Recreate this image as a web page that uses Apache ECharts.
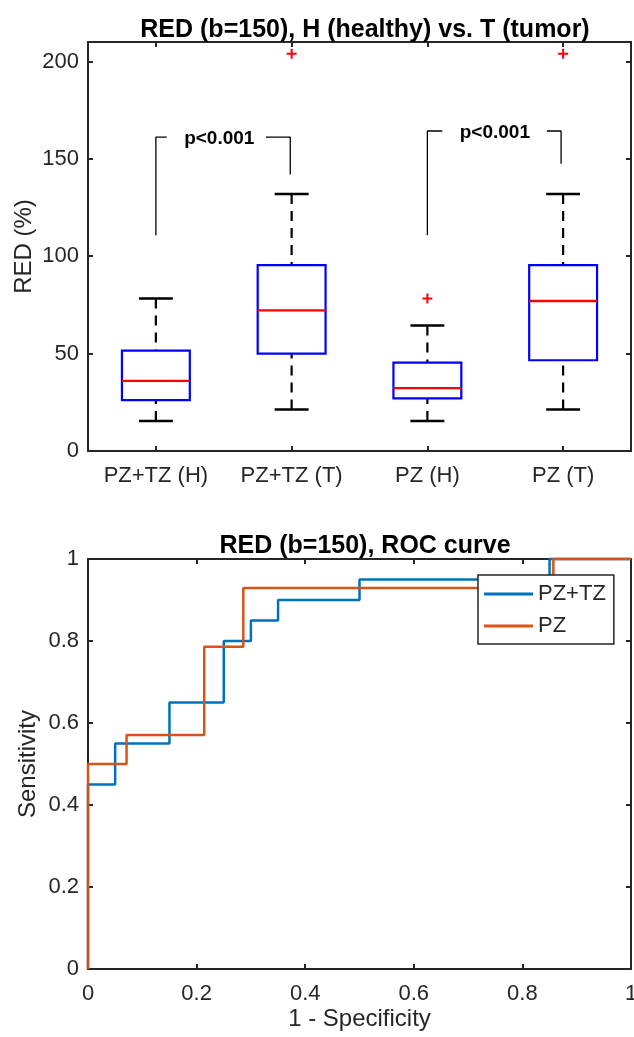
<!DOCTYPE html>
<html><head><meta charset="utf-8">
<script src="https://cdn.jsdelivr.net/npm/echarts@6/dist/echarts.min.js"></script>
<style>html,body{margin:0;padding:0;background:#fff}#c{width:634px;height:1037px}</style>
</head><body><div id="c"></div>
<script>
// ---- Box plot data (RED %) ----
const categories = ['PZ+TZ (H)', 'PZ+TZ (T)', 'PZ (H)', 'PZ (T)'];
const whiskerLow = [15.4, 21.3, 15.4, 21.3];
const q1 = [26.1, 50.0, 27.0, 46.6];
const median = [36.0, 72.2, 32.3, 77.0];
const q3 = [51.5, 95.4, 45.4, 95.4];
const whiskerHigh = [78.3, 131.9, 64.5, 131.9];
const outlierCat = [1, 2, 3];
const outlierVal = [204, 78.3, 204];

// ---- significance brackets ----
const bracketLeftX = [1, 3];
const bracketRightX = [1.99, 3.985];
const bracketTopY = [161.2, 164.3];
const bracketLeftLow = [110.8, 110.8];
const bracketRightLow = [142.0, 147.5];
const bracketGapL = [1.08, 3.11];
const bracketGapR = [1.81, 3.88];
const pLabelX = [1.467, 3.497];
const pLabelY = [160.2, 163.3];
const pLabels = ['p<0.001', 'p<0.001'];

// ---- ROC data ----
const rocNames = ['PZ+TZ', 'PZ'];
const fprPZTZ = [0, 0, 0.05, 0.15, 0.25, 0.30, 0.35, 0.50, 0.85, 1];
const tprPZTZ = [0, 0.45, 0.55, 0.65, 0.80, 0.85, 0.90, 0.95, 1, 1];
const fprPZ = [0, 0, 0.071, 0.214, 0.286, 0.857, 1];
const tprPZ = [0, 0.5, 0.571, 0.786, 0.929, 1, 1];

const FONT = 'Liberation Sans, Arial, Helvetica, sans-serif';
const AX = '#262626';

const boxRows = categories.map((c, i) => [i, whiskerLow[i], q1[i], median[i], q3[i], whiskerHigh[i]]);

function renderBox(params, api) {
  const i = api.value(0);
  const lo = api.coord([i, api.value(1)]);
  const b1 = api.coord([i, api.value(2)]);
  const md = api.coord([i, api.value(3)]);
  const b3 = api.coord([i, api.value(4)]);
  const hi = api.coord([i, api.value(5)]);
  const band = api.size([1, 0])[0];
  const bw = band * 0.5, cw = band * 0.25, cx = lo[0];
  const dash = {stroke: '#000', lineWidth: 2.2, lineDash: [10, 7]};
  const cap = {stroke: '#000', lineWidth: 2.5};
  return {type: 'group', children: [
    {type: 'line', shape: {x1: cx, y1: hi[1], x2: cx, y2: b3[1]}, style: dash},
    {type: 'line', shape: {x1: cx, y1: lo[1], x2: cx, y2: b1[1]}, style: dash},
    {type: 'line', shape: {x1: cx - cw / 2, y1: hi[1], x2: cx + cw / 2, y2: hi[1]}, style: cap},
    {type: 'line', shape: {x1: cx - cw / 2, y1: lo[1], x2: cx + cw / 2, y2: lo[1]}, style: cap},
    {type: 'rect', shape: {x: cx - bw / 2, y: b3[1], width: bw, height: b1[1] - b3[1]},
      style: {fill: 'none', stroke: '#0000FF', lineWidth: 2.2}},
    {type: 'line', shape: {x1: cx - bw / 2, y1: md[1], x2: cx + bw / 2, y2: md[1]},
      style: {stroke: '#FF0000', lineWidth: 2.4}}
  ]};
}

const bracketSeries = [];
bracketLeftX.forEach((x, k) => {
  bracketSeries.push({
    type: 'line', xAxisIndex: 2, yAxisIndex: 0, symbol: 'none', silent: true,
    lineStyle: {color: '#000', width: 1.3},
    data: [[x, bracketLeftLow[k]], [x, bracketTopY[k]], [bracketGapL[k], bracketTopY[k]]]
  });
  bracketSeries.push({
    type: 'line', xAxisIndex: 2, yAxisIndex: 0, symbol: 'none', silent: true,
    lineStyle: {color: '#000', width: 1.3},
    data: [[bracketGapR[k], bracketTopY[k]], [bracketRightX[k], bracketTopY[k]], [bracketRightX[k], bracketRightLow[k]]]
  });
});

const axisLineStyle = {onZero: false, lineStyle: {color: AX, width: 2}};
const tickIn = {show: true, inside: true, length: 5, lineStyle: {color: AX, width: 2}};
const labelStyle = {color: AX, fontSize: 22, fontFamily: FONT, hideOverlap: false};
const nameStyle = {fontSize: 24, color: AX, fontFamily: FONT};

const option = {
  animation: false,
  backgroundColor: '#fff',
  title: [
    {text: 'RED (b=150), H (healthy) vs. T (tumor)', left: 360, top: 13, textAlign: 'center',
      textStyle: {fontSize: 25, fontWeight: 'bold', color: '#000', fontFamily: FONT}},
    {text: 'RED (b=150), ROC curve', left: 360, top: 529, textAlign: 'center',
      textStyle: {fontSize: 25, fontWeight: 'bold', color: '#000', fontFamily: FONT}}
  ],
  legend: {
    data: rocNames, orient: 'vertical', left: 478, top: 575, padding: [8, 8, 7, 6],
    itemGap: 10, itemWidth: 49, itemHeight: 3, icon: 'rect',
    borderColor: AX, borderWidth: 1.5, backgroundColor: '#fff',
    textStyle: {fontSize: 22, color: AX, fontFamily: FONT}
  },
  grid: [
    {left: 88, right: 3, top: 42, bottom: 586, containLabel: false, outerBoundsMode: 'none'},
    {left: 88, right: 3, top: 559, bottom: 68, containLabel: false, outerBoundsMode: 'none'}
  ],
  xAxis: [
    {type: 'category', gridIndex: 0, data: categories, position: 'bottom', boundaryGap: true,
      axisLine: axisLineStyle, axisTick: Object.assign({alignWithLabel: true, interval: 0}, tickIn),
      axisLabel: Object.assign({margin: 14, interval: 0}, labelStyle), splitLine: {show: false}},
    {type: 'category', gridIndex: 0, data: categories, position: 'top', boundaryGap: true,
      axisLine: axisLineStyle, axisTick: Object.assign({alignWithLabel: true, interval: 0}, tickIn),
      axisLabel: {show: false}, splitLine: {show: false}},
    {type: 'value', gridIndex: 0, min: 0.5, max: 4.5, show: false},
    {type: 'value', gridIndex: 1, min: 0, max: 1, interval: 0.2, position: 'bottom',
      name: '1 - Specificity', nameLocation: 'middle', nameGap: 38, nameMoveOverlap: false,
      nameTextStyle: nameStyle,
      axisLine: axisLineStyle, axisTick: tickIn,
      axisLabel: Object.assign({margin: 14}, labelStyle), splitLine: {show: false}},
    {type: 'value', gridIndex: 1, min: 0, max: 1, interval: 0.2, position: 'top',
      axisLine: axisLineStyle, axisTick: tickIn, axisLabel: {show: false}, splitLine: {show: false}}
  ],
  yAxis: [
    {type: 'value', gridIndex: 0, min: 0, max: 210, interval: 50, position: 'left',
      name: 'RED (%)', nameLocation: 'middle', nameGap: 52, nameMoveOverlap: false,
      nameTextStyle: nameStyle,
      axisLine: axisLineStyle, axisTick: tickIn,
      axisLabel: Object.assign({margin: 9, showMaxLabel: false}, labelStyle), splitLine: {show: false}},
    {type: 'value', gridIndex: 0, min: 0, max: 210, interval: 50, position: 'right',
      axisLine: axisLineStyle, axisTick: tickIn, axisLabel: {show: false}, splitLine: {show: false}},
    {type: 'value', gridIndex: 1, min: 0, max: 1, interval: 0.2, position: 'left',
      name: 'Sensitivity', nameLocation: 'middle', nameGap: 48, nameMoveOverlap: false,
      nameTextStyle: nameStyle,
      axisLine: axisLineStyle, axisTick: tickIn,
      axisLabel: Object.assign({margin: 9}, labelStyle), splitLine: {show: false}},
    {type: 'value', gridIndex: 1, min: 0, max: 1, interval: 0.2, position: 'right',
      axisLine: axisLineStyle, axisTick: tickIn, axisLabel: {show: false}, splitLine: {show: false}}
  ],
  series: [
    {type: 'custom', xAxisIndex: 0, yAxisIndex: 0, renderItem: renderBox,
      encode: {x: 0, y: [1, 2, 3, 4, 5]}, data: boxRows, silent: true},
    {type: 'scatter', xAxisIndex: 0, yAxisIndex: 0, silent: true,
      symbol: 'path://M4,0H6V4H10V6H6V10H4V6H0V4H4Z', symbolSize: 10,
      itemStyle: {color: '#FF0000', opacity: 1},
      data: outlierCat.map((c, i) => [c, outlierVal[i]])},
    ...bracketSeries,
    {type: 'scatter', xAxisIndex: 2, yAxisIndex: 0, symbolSize: 0, silent: true,
      itemStyle: {opacity: 1},
      label: {show: true, position: 'inside', formatter: p => pLabels[p.dataIndex],
        fontSize: 19, fontWeight: 'bold', color: '#000', fontFamily: FONT},
      data: pLabelX.map((x, i) => [x, pLabelY[i]])},
    {name: rocNames[0], type: 'line', xAxisIndex: 3, yAxisIndex: 2, step: 'end',
      symbol: 'none', clip: false, color: '#0072BD', lineStyle: {color: '#0072BD', width: 2.5},
      data: fprPZTZ.map((x, i) => [x, tprPZTZ[i]])},
    {name: rocNames[1], type: 'line', xAxisIndex: 3, yAxisIndex: 2, step: 'end',
      symbol: 'none', clip: false, color: '#D95319', lineStyle: {color: '#D95319', width: 2.5},
      data: fprPZ.map((x, i) => [x, tprPZ[i]])}
  ]
};

const chart = echarts.init(document.getElementById('c'), null, {renderer: 'canvas'});
chart.setOption(option);
</script>
</body></html>
